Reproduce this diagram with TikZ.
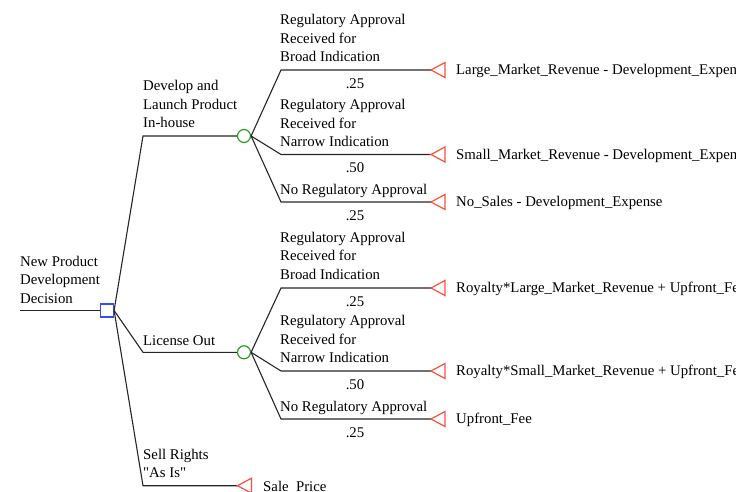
\documentclass[tikz,border=0pt]{standalone}
\usepackage{fontspec}
\setmainfont{Liberation Serif}[Ligatures=TeXOff]
\definecolor{decblue}{RGB}{50,80,250}
\definecolor{chgreen}{RGB}{40,160,40}
\definecolor{endred}{RGB}{250,80,60}
\newcommand{\treefont}{\fontsize{14.8}{18.5}\selectfont}
\begin{document}
\begin{tikzpicture}[x=1pt,y=-1pt,
  link/.style={draw=black!85,line width=1.1pt},
  decbox/.style={draw=decblue,line width=1.2pt,rectangle,minimum size=13pt,inner sep=0pt},
  chancenode/.style={draw=chgreen,line width=1.2pt,circle,minimum size=13pt,inner sep=0pt},
  endmark/.style={draw=endred,line width=1.2pt,line join=miter},
  lbl/.style={anchor=base west,inner sep=0pt,align=left,font=\treefont},
  prob/.style={anchor=base,inner sep=0pt,font=\treefont},
  pay/.style={anchor=base west,inner sep=0pt,font=\treefont}]
\path[use as bounding box] (0,0) rectangle (736,492);
\clip (0,0) rectangle (736,492);

% decision node and root
\coordinate (root) at (20,310.5);
\node[decbox] (dec) at (107,310.5) {};
\draw[link] (root) -- (dec.west);
\node[lbl] (rootlbl) at (20,303) {New Product\\Development\\Decision};

% chance nodes
\node[chancenode] (c1) at (244,136) {};
\node[chancenode] (c2) at (244,352.3) {};

% decision branches
\coordinate (a1) at (143,136);
\coordinate (a2) at (143,352.3);
\coordinate (a3) at (143,485.7);
\coordinate (t3) at (237.5,485.7);
\draw[link] (dec.east) -- (a1) -- (c1.west);
\draw[link] (dec.east) -- (a2) -- (c2.west);
\draw[link] (dec.east) -- (a3) -- (t3);
\draw[endmark] (t3) -- ++(14,-7.5) -- ++(0,15) -- cycle;
\node[lbl] (l1) at (143,128) {Develop and\\Launch Product\\In-house};
\node[lbl] (l2) at (143,345.7) {License Out};
\node[lbl] (l3) at (143,477.5) {Sell Rights\\"As Is"};
\node[pay] (p3) at (263,491.2) {Sale\_Price};

% end points of the chance branches
\foreach \n/\y in {11/70,12/154.5,13/202,21/288,22/371,23/419}{
  \coordinate (b\n) at (281,\y);
  \coordinate (t\n) at (431,\y);
}
\foreach \n/\c in {11/c1,12/c1,13/c1,21/c2,22/c2,23/c2}{
  \draw[link] (\c.east) -- (b\n) -- (t\n);
  \draw[endmark] (t\n) -- ++(14,-7.5) -- ++(0,15) -- cycle;
}

% outcomes of developing in-house
\node[lbl] (r11) at (280,61.7) {Regulatory Approval\\Received for\\Broad Indication};
\node[lbl] (r12) at (280,146.5) {Regulatory Approval\\Received for\\Narrow Indication};
\node[lbl] (r13) at (280,194) {No Regulatory Approval};
\node[prob] (q11) at (355,88.3) {.25};
\node[prob] (q12) at (355,172.7) {.50};
\node[prob] (q13) at (355,220.2) {.25};
\node[pay] (p11) at (456,74.5) {Large\_Market\_Revenue - Development\_Expense};
\node[pay] (p12) at (456,159) {Small\_Market\_Revenue - Development\_Expense};
\node[pay] (p13) at (456,206.5) {No\_Sales - Development\_Expense};

% outcomes of licensing out
\node[lbl] (r21) at (280,279.4) {Regulatory Approval\\Received for\\Broad Indication};
\node[lbl] (r22) at (280,362.7) {Regulatory Approval\\Received for\\Narrow Indication};
\node[lbl] (r23) at (280,411) {No Regulatory Approval};
\node[prob] (q21) at (355,306) {.25};
\node[prob] (q22) at (355,389.3) {.50};
\node[prob] (q23) at (355,437.3) {.25};
\node[pay] (p21) at (456,292.5) {Royalty*Large\_Market\_Revenue + Upfront\_Fee};
\node[pay] (p22) at (456,375.5) {Royalty*Small\_Market\_Revenue + Upfront\_Fee};
\node[pay] (p23) at (456,423.5) {Upfront\_Fee};
\end{tikzpicture}
\end{document}
